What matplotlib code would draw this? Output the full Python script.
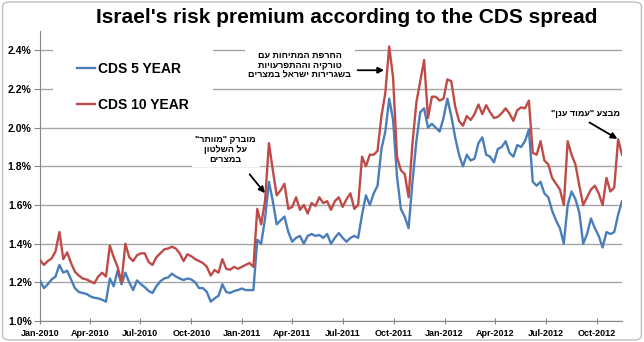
import numpy as np
import pandas as pd
import matplotlib
matplotlib.use('Agg')
import matplotlib.pyplot as plt
import matplotlib.dates as mdates
from matplotlib.ticker import FuncFormatter
from matplotlib.patches import Rectangle, FancyBboxPatch

plt.rcParams['font.family'] = ['Liberation Sans', 'DejaVu Sans']
plt.rcParams['font.weight'] = 'bold'

TITLE = "Israel's risk premium according to the CDS spread"
SERIES_NAMES = ['CDS 5 YEAR', 'CDS 10 YEAR']

# weekly observations, % spread
dates = pd.date_range('2010-01-01', periods=151, freq='7D')

cds_5y = [
    1.21, 1.17, 1.19, 1.215, 1.23, 1.29, 1.25, 1.26, 1.215, 1.17,
    1.15, 1.145, 1.14, 1.127, 1.12, 1.117, 1.11, 1.10, 1.22, 1.18,
    1.26, 1.19, 1.25, 1.20, 1.16, 1.21, 1.19, 1.175, 1.155, 1.145,
    1.18, 1.205, 1.22, 1.225, 1.245, 1.23, 1.22, 1.212, 1.22, 1.215,
    1.20, 1.17, 1.17, 1.15, 1.10, 1.117, 1.13, 1.19, 1.15, 1.145,
    1.155, 1.16, 1.168, 1.16, 1.16, 1.16, 1.42, 1.40, 1.53, 1.72,
    1.62, 1.50, 1.52, 1.54, 1.46, 1.41, 1.43, 1.44, 1.40, 1.44,
    1.45, 1.44, 1.445, 1.43, 1.45, 1.40, 1.43, 1.455, 1.43, 1.41,
    1.43, 1.44, 1.43, 1.55, 1.65, 1.60, 1.66, 1.70, 1.89, 1.98,
    2.15, 2.04, 1.75, 1.58, 1.54, 1.48, 1.72, 1.93, 2.08, 2.10,
    2.00, 2.02, 2.00, 1.98, 2.05, 2.15, 2.06, 1.95, 1.86, 1.80,
    1.86, 1.83, 1.84, 1.92, 1.95, 1.86, 1.85, 1.82, 1.89, 1.90,
    1.93, 1.87, 1.85, 1.91, 1.90, 1.93, 1.99, 1.72, 1.70, 1.72,
    1.66, 1.64, 1.57, 1.52, 1.48, 1.40, 1.60, 1.67, 1.63, 1.56,
    1.40, 1.45, 1.53, 1.48, 1.44, 1.38, 1.46, 1.45, 1.46, 1.55,
    1.62,
]

cds_10y = [
    1.315, 1.29, 1.31, 1.324, 1.36, 1.46, 1.32, 1.355, 1.30, 1.255,
    1.235, 1.22, 1.215, 1.205, 1.195, 1.23, 1.25, 1.23, 1.39, 1.33,
    1.28, 1.20, 1.40, 1.33, 1.31, 1.34, 1.35, 1.35, 1.305, 1.29,
    1.33, 1.35, 1.37, 1.375, 1.384, 1.375, 1.35, 1.31, 1.345, 1.335,
    1.32, 1.31, 1.30, 1.28, 1.235, 1.264, 1.25, 1.32, 1.27, 1.265,
    1.28, 1.27, 1.28, 1.29, 1.30, 1.28, 1.58, 1.50, 1.62, 1.92,
    1.78, 1.65, 1.675, 1.71, 1.58, 1.59, 1.64, 1.575, 1.60, 1.556,
    1.61, 1.595, 1.64, 1.61, 1.62, 1.575, 1.62, 1.64, 1.59, 1.63,
    1.66, 1.58, 1.60, 1.85, 1.80, 1.86, 1.86, 1.88, 2.06, 2.18,
    2.42, 2.26, 1.85, 1.78, 1.76, 1.64, 1.92, 2.13, 2.24, 2.35,
    2.05, 2.16, 2.16, 2.14, 2.15, 2.25, 2.24, 2.11, 2.035, 2.01,
    2.06, 2.04, 2.07, 2.12, 2.07, 2.116, 2.08, 2.05, 2.056, 2.075,
    2.10, 2.073, 2.035, 2.09, 2.105, 2.10, 2.14, 1.87, 1.86, 1.93,
    1.83, 1.81, 1.74, 1.71, 1.68, 1.60, 1.93, 1.86, 1.81, 1.70,
    1.60, 1.64, 1.68, 1.70, 1.66, 1.60, 1.74, 1.67, 1.69, 1.94,
    1.86,
]

# event notes (hebrew, logical order)
notes = [
    'מוברק "מוותר"\nעל השלטון\nבמצרים',
    'החרפת המתיחות עם\nטורקיה וההתפרעויות\nבשגרירות ישראל במצרים',
    'מבצע "עמוד ענן"',
]

BLUE = '#4a7ebb'
RED = '#be4b48'
GRID = '#a6a6a6'
AXIS = '#868686'


def visual(s):
    # matplotlib has no bidi support, flip each line for display
    return '\n'.join(line[::-1] for line in s.split('\n'))


def d(s):
    return mdates.date2num(pd.Timestamp(s))


fig = plt.figure(figsize=(6.44, 3.42), dpi=100)
ax = fig.add_axes([40 / 644, 21 / 342, 582 / 644, 290 / 342])

ax.plot(dates, cds_5y, color=BLUE, lw=1.7, label=SERIES_NAMES[0], zorder=3)
ax.plot(dates, cds_10y, color=RED, lw=1.7, label=SERIES_NAMES[1], zorder=3)

ax.set_xlim(pd.Timestamp('2010-01-01'), dates[-1])
ax.set_ylim(1.0, 2.5)
ax.set_yticks(np.arange(1.0, 2.41, 0.2))
ax.yaxis.set_major_formatter(FuncFormatter(lambda v, _: f'{v:.1f}%'))
ax.xaxis.set_major_locator(mdates.MonthLocator(bymonth=[1, 4, 7, 10]))
ax.xaxis.set_major_formatter(mdates.DateFormatter('%b-%Y'))

ax.grid(axis='y', color=GRID, lw=1.0)
ax.set_axisbelow(True)
for s in ['top', 'right']:
    ax.spines[s].set_visible(False)
for s in ['left', 'bottom']:
    ax.spines[s].set_color(AXIS)
ax.tick_params(axis='x', direction='inout', length=5, color=AXIS, labelsize=6.5, pad=3)
ax.tick_params(axis='y', direction='out', length=4, color=AXIS, labelsize=7.5, pad=2)

# legend sits on a white patch that hides the gridlines
ax.add_patch(Rectangle((0.022, 0.693), 0.275, 0.276, transform=ax.transAxes,
                       fc='white', ec='none', zorder=1))
ax.legend(loc='upper left', bbox_to_anchor=(0.0636, 0.893), frameon=False,
          fontsize=10, handlelength=1.3, handletextpad=0.2, labelspacing=1.55,
          borderpad=0, borderaxespad=0)

arrow = dict(arrowstyle='-|>', color='black', lw=1.3, mutation_scale=9)
box = dict(boxstyle='square,pad=0.4', fc='white', ec='none')

ax.text(d('2010-12-02'), 1.889, visual(notes[0]), ha='center', va='center',
        fontsize=6.5, linespacing=1.15, bbox=box, zorder=6)
ax.annotate('', xy=(d('2011-02-14'), 1.65), xytext=(d('2011-01-11'), 1.77),
            arrowprops=arrow, zorder=7)

ax.text(d('2011-04-15'), 2.323, visual(notes[1]), ha='center', va='center',
        fontsize=6.5, linespacing=1.15, bbox=box, zorder=6)
ax.annotate('', xy=(d('2011-09-19'), 2.297), xytext=(d('2011-07-23'), 2.297),
            arrowprops=arrow, zorder=7)

ax.text(d('2012-09-12'), 2.075, visual(notes[2]), ha='center', va='center',
        fontsize=6.5, bbox=dict(boxstyle='square,pad=1.3', fc='white', ec='none'), zorder=6)
ax.annotate('', xy=(d('2012-11-12'), 1.935), xytext=(d('2012-09-14'), 2.034),
            arrowprops=arrow, zorder=7)

fig.text(0.539, 0.950, TITLE, ha='center', va='center', fontsize=15, fontweight='bold')

fig.add_artist(FancyBboxPatch((0.004, 0.006), 0.992, 0.988,
                              boxstyle='round,pad=0,rounding_size=0.012',
                              transform=fig.transFigure, fc='none', ec='#bfbfbf', lw=1))

fig.savefig('out.png', dpi=100)
